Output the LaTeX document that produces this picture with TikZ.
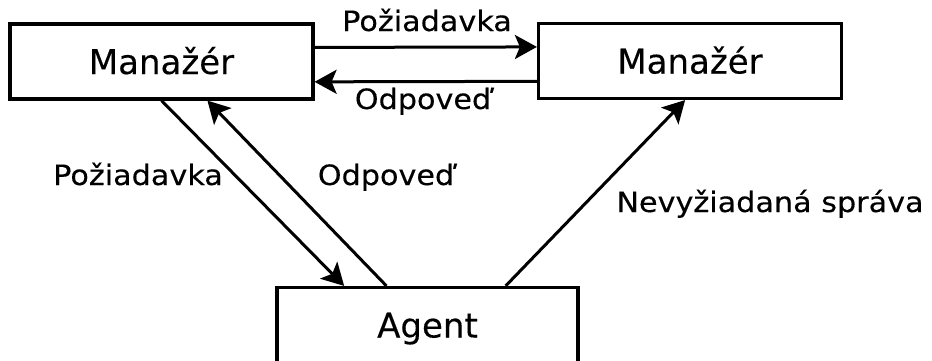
\documentclass[tikz,border=0pt]{standalone}
\usepackage{fontspec}
\newfontfamily\boxfont{DejaVu Sans}[FakeBold=0.3]
\newfontfamily\lblfont{DejaVu Sans}[FakeStretch=1.08,FakeBold=0.3]
\usetikzlibrary{arrows.meta,calc}
\begin{document}
\begin{tikzpicture}[x=1pt,y=-1pt,
  box/.style={draw=black,line width=3.2pt,minimum width=303pt,minimum height=75pt,
    inner sep=0pt,text height=25pt,text depth=0pt,font=\boxfont\fontsize{34}{40}\selectfont},
  arr/.style={line width=3pt,-{Stealth[length=22pt,width=24pt,inset=5pt]}},
  lbl/.style={inner sep=0pt,anchor=base,font=\lblfont\fontsize{28}{34}\selectfont}]
  \useasboundingbox[fill=white] (0,0) rectangle (932,360);
  % boxes
  \node[box] (lm) at (161.5,61.5) {Manažér};
  \node[box] (rm) at (690,61) {Manažér};
  \node[box,minimum width=301pt] (ag) at (427.5,325) {Agent};
  % manager to manager
  \draw[arr] ($(lm.north east)!0.32!(lm.south east)$) -- ($(rm.north west)!0.32!(rm.south west)$);
  \draw[arr] ($(rm.north west)!0.76!(rm.south west)$) -- ($(lm.north east)!0.76!(lm.south east)$);
  % manager and agent
  \draw[arr] ($(lm.south west)!0.50!(lm.south east)$) -- ($(ag.north west)!0.226!(ag.north east)$);
  \draw[arr] ($(ag.north west)!0.365!(ag.north east)$) -- ($(lm.south west)!0.65!(lm.south east)$);
  \draw[arr] ($(ag.north west)!0.757!(ag.north east)$) -- ($(rm.south west)!0.484!(rm.south east)$);
  % labels
  \node[lbl] (l1) at (427,31) {Požiadavka};
  \node[lbl] (l2) at (423,109) {Odpoveď};
  \node[lbl] (l3) at (138,185) {Požiadavka};
  \node[lbl] (l4) at (386,185) {Odpoveď};
  \node[lbl] (l5) at (770,212) {Nevyžiadaná správa};
\end{tikzpicture}
\end{document}
